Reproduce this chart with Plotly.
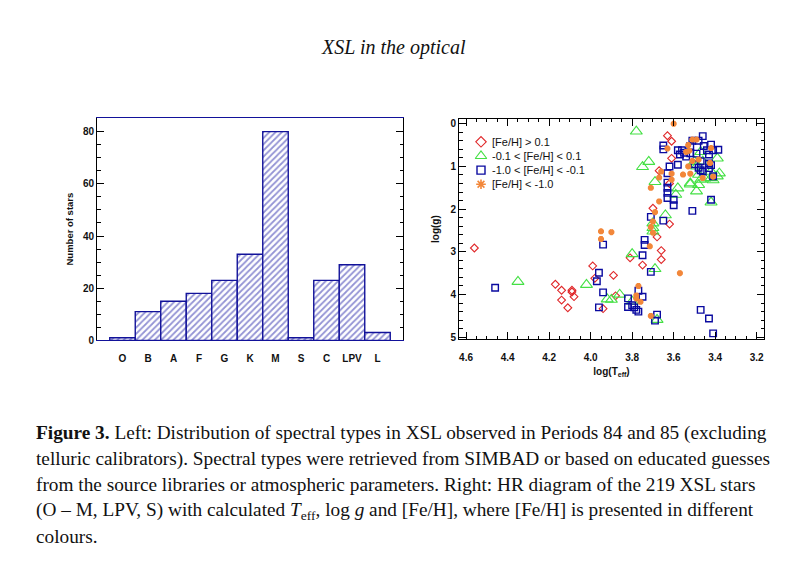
import plotly.graph_objects as go

# ---------------- data ----------------
spec_types = ["O", "B", "A", "F", "G", "K", "M", "S", "C", "LPV", "L"]
n_stars = [1, 11, 15, 18, 23, 33, 80, 1, 23, 29, 3]

# HR diagram: log(Teff), log(g) per metallicity bin
rich_logt = [4.56, 4.17, 4.14, 4.09, 4.09, 4.14, 4.08, 4.11, 3.99, 3.98, 3.94, 3.88, 3.89,
             3.81, 3.75, 3.66, 3.66, 3.68, 3.62, 3.70, 3.62, 3.67, 3.61, 3.61, 3.63]
rich_logg = [2.91, 3.76, 3.90, 3.90, 3.94, 4.13, 4.05, 4.31, 3.33, 3.62, 4.33, 4.03, 3.55,
             3.14, 3.31, 3.18, 2.97, 2.65, 2.35, 1.98, 1.40, 1.10, 0.81, 0.41, 0.28]

sol_logt = [4.35, 4.02, 3.92, 3.90, 3.86, 3.80, 3.80, 3.69, 3.68, 3.70, 3.70, 3.70, 3.64,
            3.78, 3.72, 3.75, 3.69, 3.58, 3.59, 3.52, 3.48, 3.49, 3.42, 3.47, 3.39, 3.50,
            3.45, 3.41, 3.38, 3.42, 3.49, 3.48, 3.47, 3.39, 3.46, 3.52, 3.42]
sol_logg = [3.70, 3.77, 4.11, 4.12, 4.00, 4.16, 3.05, 3.40, 4.59, 2.52, 2.44, 2.33, 2.14,
            0.18, 0.89, 1.01, 1.36, 1.51, 1.66, 1.42, 1.43, 1.58, 1.84, 0.66, 0.81, 0.89,
            1.28, 1.32, 1.16, 1.12, 1.00, 1.19, 1.31, 1.23, 0.88, 1.39, 1.27]

sub_logt = [4.46, 3.94, 3.96, 3.97, 3.94, 3.96, 3.74, 3.74, 3.75, 3.71, 3.82, 3.77, 3.75,
            3.82, 3.80, 3.79, 3.78, 3.77, 3.68, 3.69, 3.47, 3.43, 3.41, 3.71, 3.65, 3.51,
            3.60, 3.60, 3.63, 3.63, 3.63, 3.63, 3.63, 3.62, 3.58, 3.65, 3.65, 3.46, 3.51,
            3.48, 3.52, 3.455, 3.55, 3.57, 3.54, 3.47, 3.42, 3.44, 3.41, 3.385, 3.43, 3.49,
            3.52, 3.50, 3.48, 3.43, 3.42, 3.43, 3.47, 3.46, 3.41, 3.42, 3.56, 3.58]
sub_logg = [3.84, 2.83, 3.49, 3.69, 3.95, 4.30, 2.72, 2.84, 3.08, 3.47, 4.09, 3.91, 4.05,
            4.29, 4.25, 4.30, 4.36, 4.40, 4.47, 4.61, 4.36, 4.56, 4.91, 2.18, 2.27, 2.04,
            1.91, 1.78, 1.74, 1.62, 1.50, 1.38, 1.16, 1.00, 0.96, 0.51, 0.60, 0.29, 0.40,
            0.40, 0.52, 0.52, 0.68, 0.72, 0.77, 0.88, 0.49, 0.62, 0.62, 0.61, 0.72, 0.70,
            0.69, 0.95, 1.03, 0.93, 0.97, 1.04, 1.09, 1.12, 1.23, 1.78, 0.62, 0.62]

poor_logt = [3.60, 3.63, 3.51, 3.49, 3.53, 3.42, 3.525, 3.54, 3.48, 3.51, 3.425, 3.53,
             3.555, 3.52, 3.46, 3.41, 3.61, 3.61, 3.67, 3.66, 3.71, 3.67, 3.69, 3.70,
             3.71, 3.95, 3.90, 3.95, 3.715, 3.57, 3.77, 3.78, 3.78, 3.76, 3.71, 3.70]
poor_logg = [0.00, 0.58, 0.37, 0.37, 0.50, 0.57, 0.63, 0.66, 0.84, 0.87, 0.92, 1.00,
             1.19, 1.17, 1.27, 1.24, 1.17, 1.31, 1.26, 1.12, 1.50, 1.82, 2.07, 2.29,
             2.42, 2.52, 2.54, 2.70, 2.87, 3.50, 3.80, 4.02, 4.09, 4.17, 4.50, 2.55]

series_names = ["[Fe/H] > 0.1", "-0.1 < [Fe/H] < 0.1", "-1.0 < [Fe/H] < -0.1", "[Fe/H] < -1.0"]

title_text = "XSL in the optical"
caption_lines = [
    "<b>Figure 3.</b> Left: Distribution of spectral types in XSL observed in Periods 84 and 85 (excluding",
    "telluric calibrators). Spectral types were retrieved from SIMBAD or based on educated guesses",
    "from the source libraries or atmospheric parameters. Right: HR diagram of the 219 XSL stars",
    "(O – M, LPV, S) with calculated <i>T</i><sub>eff</sub>, log <i>g</i> and [Fe/H], where [Fe/H] is presented in different",
    "colours.",
]

# ---------------- figure ----------------
OFF = 8                      # page body margin
W, H = 808 - OFF, 563 - OFF
fig = go.Figure()

sans = "Liberation Sans"
serif = "Liberation Serif"


def px_x(p):
    return (p - OFF) / W


def px_y(p):
    return 1 - (p - OFF) / H


fig.add_trace(go.Bar(
    x=list(range(len(spec_types))), y=n_stars, width=1.0,
    marker=dict(color="white", line=dict(color="#12129a", width=1.4),
                pattern=dict(shape="/", fgcolor="#2828aa", bgcolor="white", size=4.4, solidity=0.4)),
    xaxis="x", yaxis="y", showlegend=False,
))

sym_specs = [
    (rich_logt, rich_logg, "diamond-open", 6, "#e0282a", 1.1, 8),
    (sol_logt, sol_logg, "triangle-up-open", 10.5, "#44e044", 1.1, 10),
    (sub_logt, sub_logg, "square-open", 6.5, "#0a0aa0", 1.4, 8),
    (poor_logt, poor_logg, "asterisk-open", 5, "#f2873a", 2.2, 8),
]
for (xs, ys, sym, sz, col, lw, lsz) in sym_specs:
    fig.add_trace(go.Scatter(
        x=xs, y=ys, mode="markers", showlegend=False,
        marker=dict(symbol=sym, size=sz, color=col, line=dict(color=col, width=lw)),
        xaxis="x2", yaxis="y2",
    ))

# legend drawn as a small key panel (rows indexed 0..3)
annotations = []
for i, ((xs, ys, sym, sz, col, lw, lsz), name) in enumerate(zip(sym_specs, series_names)):
    fig.add_trace(go.Scatter(
        x=[0], y=[i], mode="markers",
        marker=dict(symbol=sym, size=lsz, color=col, line=dict(color=col, width=min(lw, 1.6))),
        xaxis="x3", yaxis="y3", showlegend=False, cliponaxis=False,
    ))
    annotations.append(dict(text=name, x=9, y=i, xref="x3", yref="y3",
                            xanchor="left", yanchor="middle", showarrow=False,
                            font=dict(family=sans, size=11, color="#111")))

tickfont = dict(family=sans, size=10, color="#111", weight="bold")
hidden = dict(visible=False, showgrid=False, zeroline=False, fixedrange=True)

fig.update_layout(
    width=W, height=H, margin=dict(l=0, r=0, t=0, b=0),
    paper_bgcolor="white", plot_bgcolor="rgba(0,0,0,0)",
    showlegend=False,
    xaxis=dict(domain=[px_x(97), px_x(403)], range=[-1, 11],
               tickvals=list(range(len(spec_types))), ticktext=spec_types,
               ticks="", showline=True, linecolor="#12129a", linewidth=1.2, mirror=True,
               showgrid=False, zeroline=False, tickfont=tickfont, anchor="y",
               ticklabelstandoff=9),
    yaxis=dict(domain=[px_y(344), px_y(119)], range=[0, 85.3],
               tickvals=[0, 20, 40, 60, 80], ticks="inside", ticklen=7, tickcolor="black",
               minor=dict(dtick=5, ticks="inside", ticklen=3.5, tickcolor="black"),
               showline=True, linecolor="black", linewidth=1, mirror="ticks",
               showgrid=False, zeroline=False, tickfont=tickfont, anchor="x",
               title=dict(text="Number of stars",
                          font=dict(family=sans, size=9.5, color="#111", weight="bold"),
                          standoff=7)),
    xaxis2=dict(domain=[px_x(459), px_x(764)], range=[4.634, 3.165],
                tickvals=[4.6, 4.4, 4.2, 4.0, 3.8, 3.6, 3.4, 3.2],
                ticktext=["4.6", "4.4", "4.2", "4.0", "3.8", "3.6", "3.4", "3.2"],
                ticks="inside", ticklen=7, tickcolor="black",
                minor=dict(dtick=0.05, tick0=3.2, ticks="inside", ticklen=3.5, tickcolor="black"),
                showline=True, linecolor="black", linewidth=1, mirror="ticks",
                showgrid=False, zeroline=False, tickfont=tickfont, anchor="y2",
                ticklabelstandoff=9,
                title=dict(text="log(T<sub>eff</sub>)",
                           font=dict(family=sans, size=10, color="#111", weight="bold"),
                           standoff=5)),
    yaxis2=dict(domain=[px_y(343), px_y(120)], range=[5.05, -0.116],
                tickvals=[0, 1, 2, 3, 4, 5],
                ticks="inside", ticklen=7, tickcolor="black",
                minor=dict(dtick=0.2, tick0=0, ticks="inside", ticklen=3.5, tickcolor="black"),
                showline=True, linecolor="black", linewidth=1, mirror="ticks",
                showgrid=False, zeroline=False, tickfont=tickfont, anchor="x2",
                title=dict(text="log(g)",
                           font=dict(family=sans, size=10, color="#111", weight="bold"),
                           standoff=8)),
    xaxis3=dict(domain=[px_x(471), px_x(601)], range=[-10, 120], anchor="y3", **hidden),
    yaxis3=dict(domain=[px_y(193.35), px_y(136.15)], range=[3.5, -0.5], anchor="x3", **hidden),
)

annotations.append(dict(text="<i>" + title_text + "</i>", x=px_x(393), y=px_y(48),
                        xref="paper", yref="paper", xanchor="center", yanchor="middle",
                        showarrow=False, font=dict(family=serif, size=20, color="#111")))
line_y = [438, 464, 490, 516.5, 542.5]
for txt, yy in zip(caption_lines, line_y):
    annotations.append(dict(text=txt, x=px_x(34), y=px_y(yy), xref="paper", yref="paper",
                            xanchor="left", yanchor="middle", showarrow=False, align="left",
                            font=dict(family=serif, size=19.3, color="#111")))
fig.update_layout(annotations=annotations)

fig.write_html("out.html")
